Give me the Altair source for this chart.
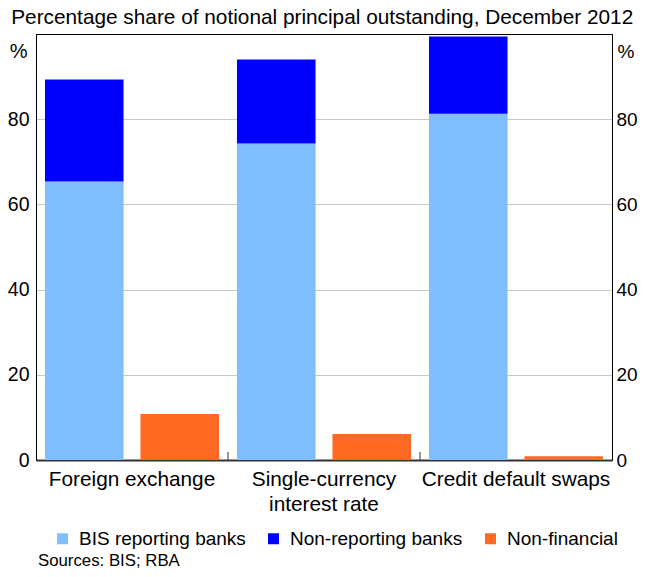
import altair as alt
import pandas as pd

categories = ["Foreign exchange", "Single-currency interest rate", "Credit default swaps"]
bis_reporting = [65.4, 74.3, 81.3]
non_reporting = [23.9, 19.7, 18.1]
non_financial = [10.8, 6.1, 0.9]
series = ["BIS reporting banks", "Non-reporting banks", "Non-financial"]
colors = ["#80BFFF", "#0000FF", "#FF6A22"]
y_ticks = [0, 20, 40, 60, 80]
subtitle = "Percentage share of notional principal outstanding, December 2012"
source_note = "Sources: BIS; RBA"

rows = []
for i, c in enumerate(categories):
    rows.append({"category": c, "group": "banks", "series": series[0], "value": bis_reporting[i], "order": 0})
    rows.append({"category": c, "group": "banks", "series": series[1], "value": non_reporting[i], "order": 1})
    rows.append({"category": c, "group": "nonfin", "series": series[2], "value": non_financial[i], "order": 2})
df = pd.DataFrame(rows)

FONT = "Liberation Sans"
W, H = 576, 426

x_enc = alt.X(
    "category:N",
    sort=categories,
    scale=alt.Scale(paddingInner=0, paddingOuter=0),
    axis=alt.Axis(
        title=None, labelFontSize=20.8, labelColor="black", labelPadding=9,
        ticks=False, domain=True, domainColor="#333333", domainWidth=2,
        labelAngle=0, labelLineHeight=25, labelLimit=0, labelBaseline="top",
        labelExpr="datum.value == 'Single-currency interest rate' ? ['Single-currency', 'interest rate'] : datum.label",
    ),
)

bars = alt.Chart(df).transform_stack(
    stack="value", groupby=["category", "group"], as_=["y0", "y1"],
    sort=[alt.SortField("order", order="ascending")],
).mark_bar(strokeWidth=0).encode(
    x=x_enc,
    xOffset=alt.XOffset("group:N", sort=["banks", "nonfin"],
                        scale=alt.Scale(paddingInner=0.177, paddingOuter=0.094)),
    y=alt.Y("y0:Q", scale=alt.Scale(domain=[0, 100], nice=False),
            axis=alt.Axis(values=y_ticks, title="%", titleAngle=0, titleAlign="right",
                          titleBaseline="middle", titleX=-9, titleY=17, titleFontSize=20,
                          titleFontWeight="normal", titleColor="black",
                          grid=True, gridColor="#c8c8c8", ticks=False,
                          labelFontSize=19.5, labelColor="black", labelPadding=7,
                          domainColor="black")),
    y2="y1:Q",
    color=alt.Color("series:N", scale=alt.Scale(domain=series, range=colors),
                    legend=alt.Legend(orient="none", legendX=17, legendY=495,
                                      direction="horizontal", symbolType="square",
                                      symbolSize=121, symbolStrokeWidth=0,
                                      labelFontSize=19, labelColor="black",
                                      columnPadding=18, labelOffset=7, title=None,
                                      labelLimit=0)),
    order=alt.Order("order:Q"),
)

right_axis = alt.Chart(pd.DataFrame({"v": y_ticks})).mark_rule(opacity=0).encode(
    y=alt.Y("v:Q", scale=alt.Scale(domain=[0, 100], nice=False),
            axis=alt.Axis(orient="right", values=y_ticks, title="%", titleAngle=0,
                          titleAlign="left", titleBaseline="middle", titleX=5, titleY=17,
                          titleFontSize=19, titleFontWeight="normal", titleColor="black",
                          grid=False, ticks=False, labelFontSize=19, labelColor="black",
                          labelPadding=4, domainColor="black")),
)

tick_df = pd.DataFrame({"category": categories[1:]})
ticks = alt.Chart(tick_df).mark_rule(color="#333333", strokeWidth=1).encode(
    x=alt.X("category:N", sort=categories, bandPosition=0),
    y=alt.value(H - 8),
    y2=alt.value(H),
)

src = alt.Chart(pd.DataFrame({"t": [source_note]})).mark_text(
    align="left", baseline="middle", fontSize=16.8, font=FONT, color="black"
).encode(text="t:N", x=alt.value(2), y=alt.value(527))

chart = alt.layer(bars, ticks, src, right_axis).resolve_scale(y="independent").properties(
    width=W, height=H,
    title=alt.Title(subtitle, fontSize=20.8, font=FONT, fontWeight="normal", color="black",
                    anchor="middle", frame="bounds", offset=5),
    autosize=alt.AutoSizeParams(type="none"),
    padding={"left": 28, "top": 26, "right": 27, "bottom": 109},
).configure_view(stroke="black", strokeWidth=1).configure_axis(
    labelFont=FONT, titleFont=FONT
).configure_legend(labelFont=FONT)

chart.save("out.html", embed_options={"renderer": "svg", "actions": False})
